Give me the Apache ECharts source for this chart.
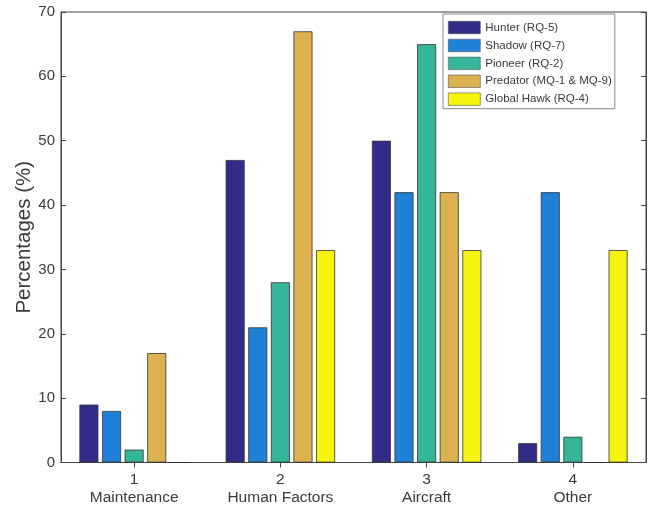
<!DOCTYPE html>
<html>
<head>
<meta charset="utf-8">
<title>UAV mishap causes</title>
<script src="https://cdn.jsdelivr.net/npm/echarts@6/dist/echarts.min.js"></script>
<style>
  html, body { margin: 0; padding: 0; background: #fff; }
  #chart { width: 655px; height: 508px; }
</style>
</head>
<body>
<div id="chart"></div>
<script>
// Cause categories and their index numbers shown under each group
const categories = ['Maintenance', 'Human Factors', 'Aircraft', 'Other'];
const categoryNumbers = ['1', '2', '3', '4'];

// Percentage of mishaps per cause, one array per platform
const hunter = [9, 47, 50, 3];
const shadow = [8, 21, 42, 42];
const pioneer = [2, 28, 65, 4];
const predator = [17, 67, 42, 0];
const globalHawk = [0, 33, 33, 33];

const seriesNames = ['Hunter (RQ-5)', 'Shadow (RQ-7)', 'Pioneer (RQ-2)', 'Predator (MQ-1 & MQ-9)', 'Global Hawk (RQ-4)'];
const seriesValues = [hunter, shadow, pioneer, predator, globalHawk];
const seriesColors = ['#312c88', '#1e80d6', '#35b59a', '#dbb24f', '#f6f40e'];

const yTicks = { min: 0, max: 70, interval: 10 };

const fontFamily = "'Liberation Sans', Arial, Helvetica, sans-serif";
const textColor = '#3a3a3a';
const lineColor = '#444';

const chart = echarts.init(document.getElementById('chart'), null, { renderer: 'canvas' });

const series = seriesNames.map((name, i) => ({
  name: name,
  type: 'bar',
  data: seriesValues[i],
  barWidth: 19,
  barGap: '19%',
  itemStyle: { color: seriesColors[i], borderColor: '#333', borderWidth: 0.8 },
  emphasis: { disabled: true }
}));

chart.setOption({
  animation: false,
  textStyle: { fontFamily: fontFamily, color: textColor },
  grid: {
    left: 61, right: 9, top: 12, bottom: 45.5,
    outerBoundsMode: 'none',
    show: true, borderColor: lineColor, borderWidth: 1, backgroundColor: 'transparent'
  },
  legend: {
    orient: 'vertical',
    left: 443,
    top: 14,
    padding: [7, 3, 3, 5],
    itemWidth: 32,
    itemHeight: 12.5,
    itemGap: 4.8,
    backgroundColor: '#fff',
    borderColor: '#888',
    borderWidth: 1,
    borderRadius: 0,
    icon: 'rect',
    itemStyle: { borderWidth: 0.6, borderColor: '#555' },
    textStyle: { fontSize: 11.5, color: textColor, fontFamily: fontFamily, lineHeight: 12.5 },
    data: seriesNames
  },
  xAxis: [
    {
      type: 'category',
      data: categories,
      position: 'bottom',
      axisLine: { show: true, lineStyle: { color: lineColor, width: 1 } },
      axisTick: { show: true, inside: true, alignWithLabel: true, length: 5, lineStyle: { color: lineColor } },
      axisLabel: {
        margin: 8,
        fontSize: 15.5,
        lineHeight: 18,
        color: textColor,
        formatter: (value, idx) => categoryNumbers[idx] + '\n' + value
      },
      splitLine: { show: false }
    },
    {
      type: 'category',
      data: categories,
      position: 'top',
      axisLine: { show: true, lineStyle: { color: lineColor, width: 1 } },
      axisTick: { show: true, inside: true, alignWithLabel: true, length: 5, lineStyle: { color: lineColor } },
      axisLabel: { show: false },
      splitLine: { show: false }
    }
  ],
  yAxis: [
    {
      type: 'value',
      min: yTicks.min, max: yTicks.max, interval: yTicks.interval,
      position: 'left',
      name: 'Percentages (%)',
      nameLocation: 'middle',
      nameGap: 26,
      nameMoveOverlap: false,
      nameTextStyle: { fontSize: 20.5, color: textColor, fontFamily: fontFamily },
      axisLine: { show: true, lineStyle: { color: lineColor, width: 1 } },
      axisTick: { show: true, inside: true, length: 5, lineStyle: { color: lineColor } },
      axisLabel: { margin: 6, fontSize: 15, color: textColor },
      splitLine: { show: false }
    },
    {
      type: 'value',
      min: yTicks.min, max: yTicks.max, interval: yTicks.interval,
      position: 'right',
      axisLine: { show: true, lineStyle: { color: lineColor, width: 1 } },
      axisTick: { show: true, inside: true, length: 5, lineStyle: { color: lineColor } },
      axisLabel: { show: false },
      splitLine: { show: false }
    }
  ],
  series: series
});
</script>
</body>
</html>
